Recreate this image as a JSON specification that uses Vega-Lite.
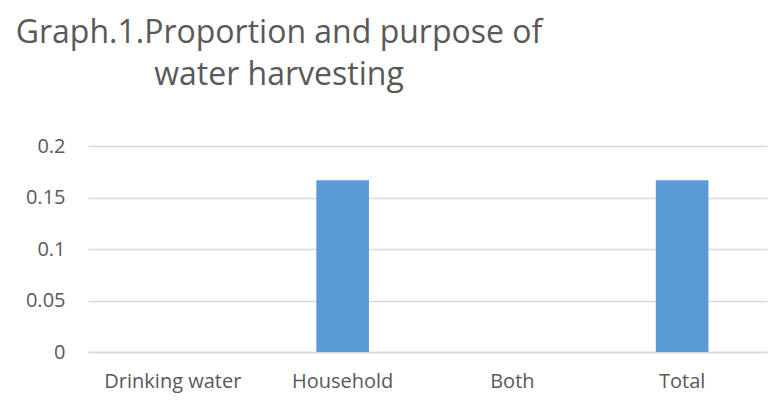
{
  "$schema": "https://vega.github.io/schema/vega-lite/v6.json",
  "autosize": "none",
  "width": 679,
  "height": 206,
  "padding": {"left": 88, "top": 146, "right": 17, "bottom": 58},
  "background": "white",
  "title": {
    "text": ["Graph.1.Proportion and purpose of", "water harvesting"],
    "anchor": "start",
    "frame": "group",
    "align": "center",
    "dx": 191,
    "baseline": "bottom",
    "offset": 12,
    "lineHeight": 42,
    "font": "Open Sans",
    "fontSize": 32,
    "fontWeight": "normal",
    "color": "#595959"
  },
  "data": {
    "values": [
      {"purpose": "Drinking water", "proportion": 0},
      {"purpose": "Household", "proportion": 0.1667},
      {"purpose": "Both", "proportion": 0},
      {"purpose": "Total", "proportion": 0.1667}
    ]
  },
  "mark": {"type": "bar", "color": "#5b9bd5"},
  "encoding": {
    "x": {
      "field": "purpose",
      "type": "nominal",
      "sort": null,
      "scale": {"paddingInner": 0.69, "paddingOuter": 0.345},
      "axis": {
        "title": null,
        "labelAngle": 0,
        "ticks": false,
        "domainColor": "#d9d9d9",
        "domainWidth": 1.5,
        "labelFont": "Open Sans",
        "labelFontSize": 20,
        "labelColor": "#595959",
        "labelPadding": 19
      }
    },
    "y": {
      "field": "proportion",
      "type": "quantitative",
      "scale": {"domain": [0, 0.2]},
      "axis": {
        "title": null,
        "values": [0, 0.05, 0.1, 0.15, 0.2],
        "format": "~g",
        "domain": false,
        "ticks": false,
        "gridColor": "#d9d9d9",
        "gridWidth": 1.5,
        "labelFont": "Open Sans",
        "labelFontSize": 20,
        "labelColor": "#595959",
        "labelPadding": 23
      }
    }
  },
  "config": {"view": {"stroke": null}}
}
